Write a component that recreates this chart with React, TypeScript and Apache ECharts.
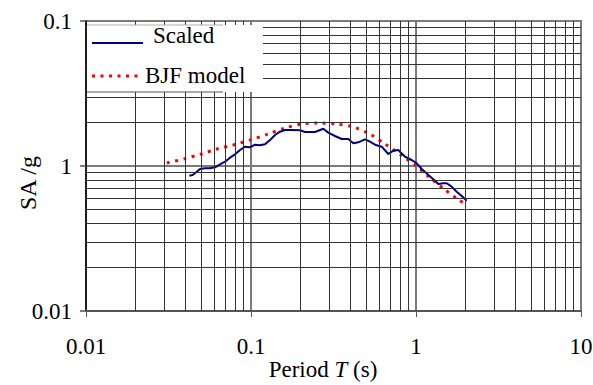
import React, { useEffect, useRef } from "react";
import * as echarts from "echarts";

const periodsScaled = [0.0423, 0.0443, 0.0469, 0.0491, 0.0526, 0.0564, 0.0605, 0.0649, 0.0696, 0.0746, 0.08, 0.0858, 0.092, 0.0986, 0.1057, 0.1134, 0.1216, 0.1304, 0.1398, 0.1499, 0.1607, 0.1764, 0.1982, 0.2125, 0.2442, 0.2743, 0.2941, 0.3228, 0.3546, 0.3888, 0.4169, 0.447, 0.491, 0.5263, 0.5645, 0.6197, 0.6795, 0.7284, 0.781, 0.8576, 0.9418, 1.01, 1.083, 1.188, 1.304, 1.365, 1.463, 1.535, 1.645, 1.765, 1.892, 2.03];
const saScaled = [0.0857, 0.0867, 0.0914, 0.0953, 0.0964, 0.0964, 0.098, 0.1027, 0.1071, 0.1141, 0.1204, 0.129, 0.1359, 0.1346, 0.1402, 0.1389, 0.1412, 0.1512, 0.1636, 0.1724, 0.1771, 0.1771, 0.1763, 0.1716, 0.1716, 0.1808, 0.1698, 0.161, 0.1535, 0.1535, 0.1434, 0.1456, 0.1528, 0.1471, 0.1402, 0.1359, 0.121, 0.1276, 0.129, 0.1159, 0.11, 0.1044, 0.0953, 0.0867, 0.0792, 0.0751, 0.076, 0.076, 0.072, 0.0665, 0.0621, 0.0576];

const periodsBJF = [0.0309, 0.0393, 0.0498, 0.0622, 0.0789, 0.0986, 0.127, 0.161, 0.204, 0.258, 0.327, 0.415, 0.526, 0.649, 0.811, 0.986, 1.2, 1.48, 1.82, 2.04];
const saBJF = [0.105, 0.112, 0.121, 0.131, 0.14, 0.151, 0.166, 0.183, 0.195, 0.198, 0.195, 0.186, 0.166, 0.142, 0.119, 0.1016, 0.084, 0.0694, 0.0583, 0.0538];

const xTickValues = [0.01, 0.1, 1, 10];
const xTickLabels = ["0.01", "0.1", "1", "10"];
const yTickValues = [0.01, 0.1, 1];
const yTickLabels = ["0.01", "1", "0.1"];

const seriesNames = ["Scaled", "BJF model"];

const xMinorGrid = [0.01, 0.1, 1].flatMap((d) => [2, 3, 4, 5, 6, 7, 8, 9].map((m) => +(m * d).toPrecision(3)));
const yMinorGrid = [0.01, 0.1].flatMap((d) => [2, 3, 4, 5, 6, 7, 8, 9].map((m) => +(m * d).toPrecision(3)));

const FONT = "Liberation Serif";

function pickLabel(values: number[], labels: string[], v: number) {
  let best = 0;
  let bd = Infinity;
  values.forEach((t, i) => {
    const d = Math.abs(Math.log10(t) - Math.log10(v));
    if (d < bd) {
      bd = d;
      best = i;
    }
  });
  return bd < 0.01 ? labels[best] : "";
}

export default function App() {
  const ref = useRef<HTMLDivElement>(null);
  useEffect(() => {
    if (!ref.current) return;
    const chart = echarts.init(ref.current, undefined, { renderer: "svg" });
    const gridColor = "#333333";
    chart.setOption({
      animation: false,
      textStyle: { fontFamily: FONT },
      grid: {
        left: 86,
        right: 12,
        top: 21,
        bottom: 74,
        containLabel: false,
        outerBoundsMode: "none",
        show: true,
        borderColor: "#8a8a8a",
        borderWidth: 2,
        backgroundColor: "transparent",
      },
      xAxis: {
        type: "log",
        logBase: 10,
        min: 0.01,
        max: 10,
        name: "Period {i|T} (s)",
        nameLocation: "middle",
        nameGap: 47,
        nameMoveOverlap: false,
        nameTextStyle: {
          fontFamily: FONT,
          fontSize: 23,
          color: "#000",
          padding: [0, 21, 0, 0],
          rich: {
            i: { fontFamily: FONT, fontSize: 23, fontStyle: "italic", color: "#000" },
          },
        },
        axisLine: { show: true, lineStyle: { color: "#555", width: 2 } },
        axisTick: { show: true, inside: false, length: 6, lineStyle: { color: "#555", width: 1 } },
        axisLabel: {
          margin: 24,
          fontFamily: FONT,
          fontSize: 23,
          color: "#000",
          formatter: (v: number) => pickLabel(xTickValues, xTickLabels, v),
        },
        splitLine: { show: true, lineStyle: { color: "#7a7a7a", width: 2 } },
      },
      yAxis: {
        type: "log",
        logBase: 10,
        min: 0.01,
        max: 1,
        name: "SA /g",
        nameLocation: "middle",
        nameGap: 46,
        nameMoveOverlap: false,
        nameTextStyle: {
          fontFamily: FONT,
          fontSize: 24,
          color: "#000",
          padding: [0, 34, 0, 0],
        },
        axisLine: { show: true, lineStyle: { color: "#000", width: 1.5 } },
        axisTick: { show: true, inside: false, length: 6, lineStyle: { color: "#555", width: 1.5 } },
        axisLabel: {
          margin: 14,
          fontFamily: FONT,
          fontSize: 23,
          color: "#000",
          formatter: (v: number) => pickLabel(yTickValues, yTickLabels, v),
        },
        splitLine: { show: true, lineStyle: { color: "#7a7a7a", width: 2 } },
      },
      graphic: [
        { type: "rect", z: 100, shape: { x: 87, y: 25, width: 176, height: 67 }, style: { fill: "#fff" } },
        { type: "line", z: 101, shape: { x1: 87, y1: 25, x2: 223, y2: 25 }, style: { stroke: "#b0b0b0", lineWidth: 1 } },
        { type: "line", z: 101, shape: { x1: 87, y1: 92, x2: 223, y2: 92 }, style: { stroke: "#555", lineWidth: 1 } },
        { type: "line", z: 101, shape: { x1: 92, y1: 43, x2: 143, y2: 43 }, style: { stroke: "#000080", lineWidth: 2 } },
        {
          type: "text", z: 101, x: 153, y: 35.5,
          style: { text: seriesNames[0], fontFamily: FONT, fontSize: 23, fill: "#000", verticalAlign: "middle", align: "left" },
        },
        { type: "line", z: 101, shape: { x1: 92, y1: 76, x2: 143, y2: 76 }, style: { stroke: "#ff0000", lineWidth: 3, lineDash: [3, 5.5] } },
        {
          type: "text", z: 101, x: 145, y: 75.5,
          style: { text: seriesNames[1], fontFamily: FONT, fontSize: 23, fill: "#000", verticalAlign: "middle", align: "left" },
        },
      ],
      series: [
        {
          type: "line",
          name: "grid",
          data: [],
          silent: true,
          z: 1,
          markLine: {
            silent: true,
            symbol: ["none", "none"],
            label: { show: false },
            animation: false,
            lineStyle: { color: gridColor, width: 1, type: "solid" },
            data: [
              ...xMinorGrid.map((v) => ({ xAxis: v })),
              ...yMinorGrid.map((v) => ({ yAxis: v })),
            ],
          },
        },
        {
          type: "line",
          name: seriesNames[1],
          data: periodsBJF.map((p, i) => [p, saBJF[i]]),
          showSymbol: false,
          smooth: 0.3,
          z: 3,
          lineStyle: { color: "#ff0000", width: 3, type: [3, 5.5] },
        },
        {
          type: "line",
          name: seriesNames[0],
          data: periodsScaled.map((p, i) => [p, saScaled[i]]),
          showSymbol: false,
          z: 4,
          lineStyle: { color: "#000080", width: 2 },
        },
      ],
    });
    return () => chart.dispose();
  }, []);
  return <div ref={ref} style={{ width: 593, height: 385, position: "absolute", left: 0, top: 0 }} />;
}
